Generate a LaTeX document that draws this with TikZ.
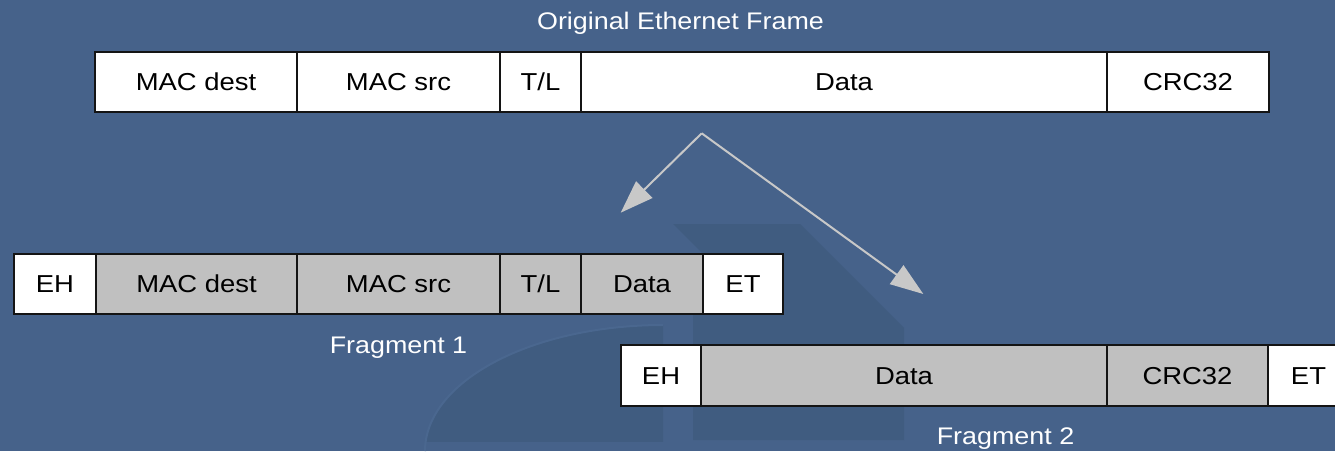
\documentclass[tikz,border=0pt]{standalone}
\usepackage{fontspec}
\setmainfont{Liberation Sans}[FakeStretch=1.12]
\usetikzlibrary{arrows.meta}
\definecolor{bgblue}{RGB}{70,98,138}
\definecolor{markblue}{RGB}{64,92,128}
\definecolor{markedge}{RGB}{74,103,143}
\definecolor{cellgrey}{RGB}{192,192,192}
\definecolor{arrowgrey}{RGB}{200,200,200}
\definecolor{cellline}{RGB}{20,20,20}

\begin{document}
\begin{tikzpicture}[x=1pt,y=-1pt,
  cell/.style={draw=cellline, line width=1.2pt, minimum height=60pt, inner sep=0pt,
    font=\fontsize{24.5}{28}\selectfont, text=black, text height=17.5pt, text depth=0pt},
  plain/.style={cell, fill=white},
  shaded/.style={cell, fill=cellgrey},
  caption/.style={font=\fontsize{24}{28}\selectfont, text=white, anchor=base, inner sep=0pt},
  split/.style={draw=arrowgrey, line width=2pt, -{Triangle[length=33pt,width=23pt]}}]

% page and background
\useasboundingbox (0,0) rectangle (1335,451);
\clip (0,0) rectangle (1335,451);
\fill[bgblue] (0,0) rectangle (1335,451);

% faint logo in the background
\fill[markblue] (673,224) -- (800,224) -- (904,328) -- (904,440) -- (693,440)
  -- (693,296) -- (745,296) -- cycle;
\begin{scope}
  \clip (0,0) rectangle (1335,441);
  \fill[markblue] (425,451) arc[start angle=180, end angle=270, x radius=238, y radius=126]
    -- (663,451) -- cycle;
\end{scope}
\draw[markedge, line width=2pt] (425,451) arc[start angle=180, end angle=270, x radius=238, y radius=126];

% original frame
\node[caption] (ttitle) at (680.5,29) {Original Ethernet Frame};
\node[plain, minimum width=202pt] (tmacd) at (196,82) {MAC dest};
\node[plain, minimum width=203pt] (tmacs) at (398.5,82) {MAC src};
\node[plain, minimum width=81pt]  (ttl)   at (540.5,82) {T/L};
\node[plain, minimum width=526pt] (tdata) at (844,82) {Data};
\node[plain, minimum width=162pt] (tcrc)  at (1188,82) {CRC32};

% fragment 1
\node[plain,  minimum width=82pt]  (aeh)   at (55,284) {EH};
\node[shaded, minimum width=201pt] (amacd) at (196.5,284) {MAC dest};
\node[shaded, minimum width=203pt] (amacs) at (398.5,284) {MAC src};
\node[shaded, minimum width=81pt]  (atl)   at (540.5,284) {T/L};
\node[shaded, minimum width=122pt] (adata) at (642,284) {Data};
\node[plain,  minimum width=80pt]  (aet)   at (743,284) {ET};
\node[caption] (alabel) at (398.5,353) {Fragment 1};

% fragment 2
\node[plain,  minimum width=80pt, minimum height=61pt]  (beh)   at (661,375.5) {EH};
\node[shaded, minimum width=406pt, minimum height=61pt] (bdata) at (904,375.5) {Data};
\node[shaded, minimum width=161pt, minimum height=61pt] (bcrc)  at (1187.5,375.5) {CRC32};
\node[plain,  minimum width=81pt, minimum height=61pt]  (bet)   at (1308.5,375.5) {ET};
\node[caption] (blabel) at (1005.5,444.5) {Fragment 2};

% splitting arrows
\coordinate (fork) at (701.7,133.3);
\coordinate (f1in) at (620.7,212.7);
\coordinate (f2in) at (923.3,294);
\draw[split] (fork) -- (f1in);
\draw[split] (fork) -- (f2in);
\end{tikzpicture}
\end{document}
